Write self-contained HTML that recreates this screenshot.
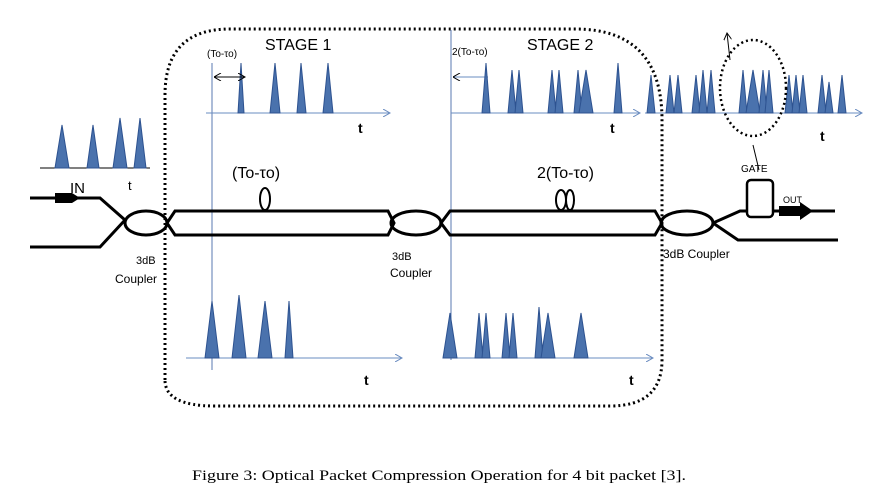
<!DOCTYPE html>
<html><head><meta charset="utf-8"><style>
html,body{margin:0;padding:0;background:#fff;}
svg{display:block;}
text{font-family:"Liberation Sans","DejaVu Sans",sans-serif;fill:#000;}
.p{fill:#4a72ad;stroke:#2d5290;stroke-width:1;}
.ax{stroke:#6a8cc0;stroke-width:1;fill:none;}
.f{stroke:#000;stroke-width:3;fill:none;}
</style></head><body>
<svg width="878" height="501" viewBox="0 0 878 501" xmlns="http://www.w3.org/2000/svg">
<defs>
<marker id="ah" markerWidth="8" markerHeight="8" refX="7" refY="4" orient="auto" markerUnits="userSpaceOnUse"><path d="M0,0 L7,4 L0,8" fill="none" stroke="#6a8cc0" stroke-width="1"/></marker>
<marker id="bk" markerWidth="8" markerHeight="8" refX="7" refY="4" orient="auto" markerUnits="userSpaceOnUse"><path d="M0,0 L7,4 L0,8" fill="none" stroke="#000" stroke-width="1"/></marker>
<marker id="bks" markerWidth="8" markerHeight="8" refX="0" refY="4" orient="auto" markerUnits="userSpaceOnUse"><path d="M7,0 L0,4 L7,8" fill="none" stroke="#000" stroke-width="1"/></marker>
</defs>

<!-- dotted stage boundary -->
<path d="M165,380 L165,95 Q165,29 230,29 L575,29 Q662,29 662,120 L662,360 Q662,406 610,406 L215,406 Q165,406 165,380" fill="none" stroke="#000" stroke-width="3" stroke-dasharray="2,3"/>

<!-- IN pulses -->
<line x1="40" y1="168" x2="150" y2="168" stroke="#000" stroke-width="1"/>
<polygon class="p" points="55,168 62,125 69,168"/>
<polygon class="p" points="87,168 93,125 99,168"/>
<polygon class="p" points="113,168 120,118 127,168"/>
<polygon class="p" points="134,168 140,118 146,168"/>
<text x="70" y="193" font-size="15">IN</text>
<text x="128" y="190" font-size="13">t</text>

<!-- Stage 1 top -->
<line x1="212" y1="63" x2="212" y2="370" stroke="#5a78b0" stroke-width="1"/>
<line class="ax" x1="206" y1="113" x2="390" y2="113" marker-end="url(#ah)"/>
<polygon class="p" points="238,113 241,63 244,113"/>
<polygon class="p" points="270,113 275,63 280,113"/>
<polygon class="p" points="297,113 301,63 306,113"/>
<polygon class="p" points="323,113 328,63 333,113"/>
<line x1="214" y1="77" x2="245" y2="77" stroke="#000" stroke-width="1" marker-end="url(#bk)" marker-start="url(#bks)"/>
<text x="207" y="57" font-size="10">(To-τo)</text>
<text x="265" y="50" font-size="16">STAGE 1</text>
<text x="358" y="133" font-size="14" font-weight="bold">t</text>

<!-- Stage 2 top -->
<line x1="451" y1="30" x2="451" y2="360" stroke="#5a78b0" stroke-width="1"/>
<line class="ax" x1="451" y1="113" x2="640" y2="113" marker-end="url(#ah)"/>
<line class="ax" x1="645" y1="113" x2="862" y2="113" marker-end="url(#ah)"/>
<line x1="453" y1="77" x2="488" y2="77" stroke="#6a8cc0" stroke-width="1" marker-start="url(#bks)"/>
<text x="452" y="55" font-size="10">2(To-τo)</text>
<text x="527" y="50" font-size="16">STAGE 2</text>
<text x="610" y="133" font-size="14" font-weight="bold">t</text>
<text x="820" y="141" font-size="14" font-weight="bold">t</text>
<polygon class="p" points="482,113 486,63 490,113"/>
<polygon class="p" points="508,113 512,70 516,113"/>
<polygon class="p" points="515,113 519,70 523,113"/>
<polygon class="p" points="548,113 552,70 556,113"/>
<polygon class="p" points="555,113 559,70 563,113"/>
<polygon class="p" points="574,113 578,70 582,113"/>
<polygon class="p" points="579,113 586,70 593,113"/>
<polygon class="p" points="614,113 618,63 622,113"/>
<!-- beyond -->
<polygon class="p" points="647,113 651,75 655,113"/>
<polygon class="p" points="666,113 670,75 674,113"/>
<polygon class="p" points="674,113 678,75 682,113"/>
<polygon class="p" points="692,113 696,75 700,113"/>
<polygon class="p" points="699,113 703,70 707,113"/>
<polygon class="p" points="707,113 711,70 715,113"/>
<polygon class="p" points="739,113 743,70 747,113"/>
<polygon class="p" points="746,113 753,70 760,113"/>
<polygon class="p" points="759,113 763,70 767,113"/>
<polygon class="p" points="765,113 769,70 773,113"/>
<polygon class="p" points="785,113 789,75 793,113"/>
<polygon class="p" points="792,113 796,75 800,113"/>
<polygon class="p" points="799,113 803,75 807,113"/>
<polygon class="p" points="818,113 822,75 826,113"/>
<polygon class="p" points="825,113 829,82 833,113"/>
<polygon class="p" points="838,113 842,75 846,113"/>
<ellipse cx="753" cy="88" rx="33" ry="48" fill="none" stroke="#000" stroke-width="2.5" stroke-dasharray="2,3"/>
<line x1="730" y1="60" x2="727" y2="33" stroke="#000" stroke-width="1" marker-end="url(#bk)"/>
<line x1="753" y1="145" x2="759" y2="170" stroke="#000" stroke-width="1"/>

<!-- fibers -->
<polyline class="f" points="30,198 100,198 125,220 100,247 30,247"/>
<polygon points="55,193 72,193 80,198 72,203 55,203" fill="#000"/>
<ellipse class="f" cx="146" cy="223" rx="21" ry="12"/>
<path class="f" d="M167,223 L175,211 L388,211 L394,223 L388,235 L175,235 Z"/>
<ellipse class="f" cx="416" cy="223" rx="25" ry="12"/>
<path class="f" d="M441,223 L450,211 L655,211 L662,223 L655,235 L450,235 Z"/>
<ellipse class="f" cx="687" cy="223" rx="26" ry="12"/>
<polyline class="f" points="713,223 740,211 835,211"/>
<polyline class="f" points="713,223 738,240 838,240"/>
<rect x="747" y="180" width="26" height="37" rx="4" fill="#fff" stroke="#000" stroke-width="2.5"/>
<polygon points="779,206 800,206 800,202 813,211 800,220 800,216 779,216" fill="#000"/>
<text x="783" y="203" font-size="9">OUT</text>
<text x="741" y="172" font-size="10">GATE</text>
<ellipse cx="265" cy="199" rx="5" ry="11" fill="none" stroke="#000" stroke-width="2"/>
<ellipse cx="561" cy="200" rx="5" ry="10" fill="none" stroke="#000" stroke-width="2"/>
<ellipse cx="570" cy="200" rx="4" ry="10" fill="none" stroke="#000" stroke-width="2"/>
<text x="232" y="178" font-size="16">(To-τo)</text>
<text x="537" y="178" font-size="16">2(To-τo)</text>
<text x="136" y="264" font-size="11">3dB</text>
<text x="115" y="283" font-size="12">Coupler</text>
<text x="392" y="260" font-size="11">3dB</text>
<text x="390" y="277" font-size="12">Coupler</text>
<text x="663" y="258" font-size="12">3dB Coupler</text>

<!-- bottom stage 1 -->
<line class="ax" x1="186" y1="358" x2="402" y2="358" marker-end="url(#ah)"/>
<polygon class="p" points="205,358 212,301 219,358"/>
<polygon class="p" points="232,358 239,295 246,358"/>
<polygon class="p" points="258,358 265,301 272,358"/>
<polygon class="p" points="285,358 289,301 293,358"/>
<text x="364" y="385" font-size="14" font-weight="bold">t</text>

<!-- bottom stage 2 -->
<line class="ax" x1="443" y1="358" x2="653" y2="358" marker-end="url(#ah)"/>
<polygon class="p" points="443,358 450,313 457,358"/>
<polygon class="p" points="475,358 479,313 483,358"/>
<polygon class="p" points="482,358 486,313 490,358"/>
<polygon class="p" points="502,358 506,313 510,358"/>
<polygon class="p" points="509,358 513,313 517,358"/>
<polygon class="p" points="535,358 539,307 543,358"/>
<polygon class="p" points="541,358 548,313 555,358"/>
<polygon class="p" points="574,358 581,313 588,358"/>
<text x="629" y="385" font-size="14" font-weight="bold">t</text>

<text x="439" y="480" font-size="15" text-anchor="middle" style="font-family:'Liberation Serif',serif" textLength="494" lengthAdjust="spacingAndGlyphs">Figure 3: Optical Packet Compression Operation for 4 bit packet [3].</text>
</svg>
</body></html>
